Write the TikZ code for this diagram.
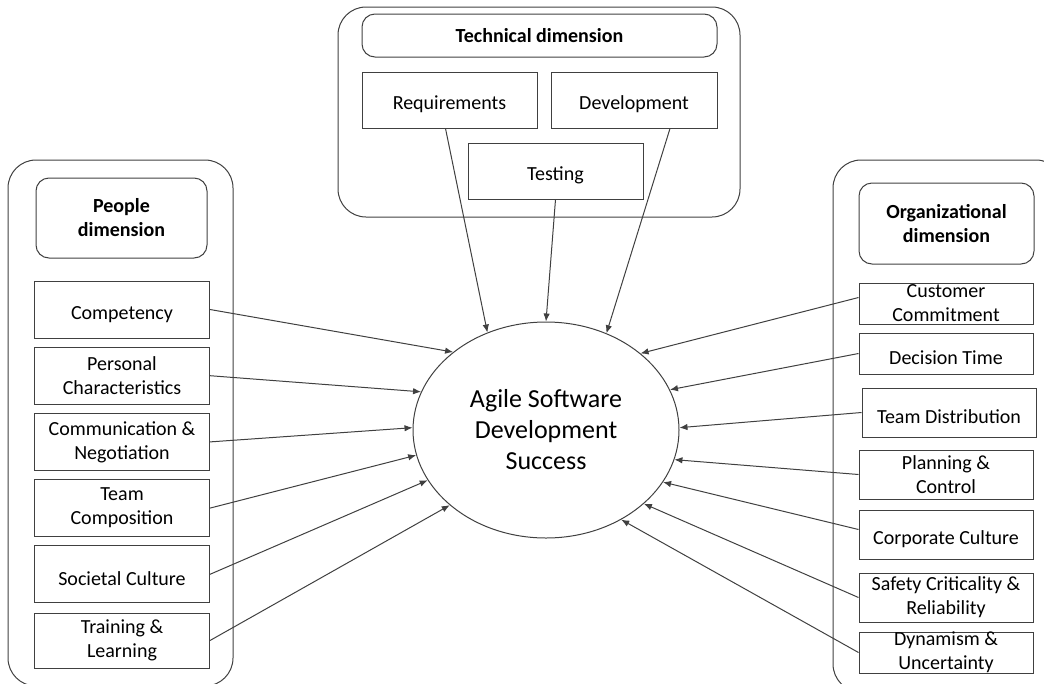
\documentclass[tikz,border=0pt]{standalone}
\usepackage{fontspec}
\setmainfont{Carlito}
\usepackage{tikz}
\usetikzlibrary{shapes.geometric, arrows.meta}
\usetikzlibrary{positioning}
\definecolor{lineGray}{RGB}{64,64,64}

\begin{document}
\begin{tikzpicture}[x=1pt,y=-1pt,node distance=66.2pt]
	%defines
	\tikzstyle{groupBox} = [draw=lineGray, line width=1pt, rounded corners=28pt]
	\tikzstyle{dimension} = [rectangle, rounded corners=13pt, minimum width=171pt, minimum height=80pt, inner sep=0pt, align=center, draw=lineGray, line width=1pt, font=\fontsize{20}{24}\selectfont\bfseries]
	\tikzstyle{factor} = [rectangle, minimum width=175pt, minimum height=57pt, inner sep=0pt, align=center, draw=lineGray, line width=1pt, font=\fontsize{20}{24}\selectfont, execute at begin node={\rule{0pt}{23pt}}]
	\tikzstyle{orgFactor} = [factor, minimum width=174pt, minimum height=49pt]
	\tikzstyle{tightFactor} = [orgFactor, execute at begin node={}]
	\tikzstyle{success} = [ellipse, minimum width=266pt, minimum height=216pt, inner sep=0pt, align=center, draw=lineGray, line width=1pt, font=\fontsize{26}{31}\selectfont]
	\tikzstyle{arrow} = [lineGray, line width=1pt, -{Latex[length=8pt,width=6.5pt]}]
	\useasboundingbox (0,0) rectangle (1044,683);
	\clip (0,0) rectangle (1044,683);
	%groups
	\draw [groupBox] (8,160) rectangle (233,686);
	\draw [groupBox] (338,7) rectangle (740,217);
	\draw [groupBox] (833,160) rectangle (1064,692);
	%chart
	\node (success) [success] at (546,430) {Agile Software\\Development\\Success};
	% technical
	\node (techHeader) [dimension, minimum width=355pt, minimum height=43pt] at (539.5,35.5) {Technical dimension};
	\node (requirements) [factor, minimum height=56pt] at (449.5,100) {Requirements};
	\node (development) [factor, minimum width=166pt, minimum height=56pt] at (634,100) {Development};
	\node (testing) [factor, minimum height=56pt] at (555.5,171) {Testing};
	% people
	\node (peopleHeader) [dimension] at (121.5,218) {People\\dimension};
	\node (competency) [factor] at (122,309.5) {Competency};
	\node (personal) [factor, below of=competency] {Personal\\Characteristics};
	\node (communication) [factor, below of=personal] {Communication \&\\Negotiation};
	\node (teamComposition) [factor, below of=communication] {Team\\Composition};
	\node (societalCulture) [factor, below of=teamComposition] {Societal Culture};
	\node (training) [factor, below of=societalCulture, minimum height=55pt] {Training \&\\Learning};
	% organizational
	\node (orgHeader) [dimension, minimum width=175pt, minimum height=81pt] at (946.5,223.5) {Organizational\\dimension};
	\node (customer) [tightFactor, minimum height=41pt] at (946,303.5) {Customer\\Commitment};
	\node (decision) [orgFactor, minimum height=41pt] at (946,353.5) {Decision Time};
	\node (teamDistribution) [orgFactor] at (949,412.5) {Team Distribution};
	\node (planning) [orgFactor] at (946,474.5) {Planning \&\\Control};
	\node (corporate) [orgFactor] at (946,534.5) {Corporate Culture};
	\node (safety) [orgFactor] at (946,597.5) {Safety Criticality \&\\Reliability};
	\node (dynamism) [tightFactor, minimum height=39pt] at (946,652.5) {Dynamism \&\\Uncertainty};
	\draw [arrow] ([xshift=-4pt]requirements.south) -- (success.121);
	\draw [arrow] (testing.south) -- (success.90);
	\draw [arrow] ([xshift=36pt]development.south) -- (success.58);
	\draw [arrow] (competency.east) -- (success.140);
	\draw [arrow] (personal.east) -- (success.163);
	\draw [arrow] (communication.east) -- (success.179);
	\draw [arrow] (teamComposition.east) -- (success.191);
	\draw [arrow] (societalCulture.east) -- (success.203);
	\draw [arrow] (training.east) -- (success.218);
	\draw [arrow] ([yshift=6pt]customer.west) -- (success.39);
	\draw [arrow] (decision.west) -- (success.18);
	\draw [arrow] (teamDistribution.west) -- (success.1);
	\draw [arrow] (planning.west) -- (success.-13);
	\draw [arrow] ([yshift=5pt]corporate.west) -- (success.-24);
	\draw [arrow] (safety.west) -- (success.-37);
	\draw [arrow] (dynamism.west) -- (success.-50);
\end{tikzpicture}
\end{document}
